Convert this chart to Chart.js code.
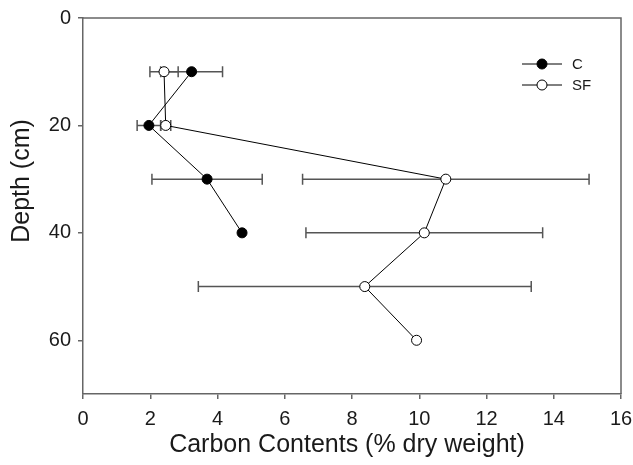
<!DOCTYPE html>
<html>
<head>
<meta charset="utf-8">
<script src="https://cdn.jsdelivr.net/npm/chart.js@4/dist/chart.umd.min.js"></script>
<style>
html,body{margin:0;padding:0;background:#fff;}
#wrap{width:633px;height:465px;position:relative;}
</style>
</head>
<body>
<div id="wrap"><canvas id="c" width="633" height="465"></canvas></div>
<script>
// Data
const seriesNames = ["C", "SF"];
const depthC = [10, 20, 30, 40];
const carbonC = [3.23, 1.96, 3.69, 4.73];
const errC = [0.92, 0.35, 1.64, 0];
const depthSF = [10, 20, 30, 40, 50, 60];
const carbonSF = [2.41, 2.46, 10.79, 10.15, 8.38, 9.92];
const errSF = [0.42, 0.15, 4.26, 3.52, 4.95, 0];
const xTicks = [0, 2, 4, 6, 8, 10, 12, 14, 16];
const yTicks = [0, 20, 40, 60];
const xTitle = "Carbon Contents (% dry weight)";
const yTitle = "Depth (cm)";

const FONT = "'Liberation Sans', Arial, sans-serif";
const AXIS = '#666666';
const TXT = '#1a1a1a';

function pts(xs, ys, es) { return xs.map((x, i) => ({x: x, y: ys[i], e: es[i]})); }

const errorBars = {
  id: 'errorBars',
  beforeDatasetsDraw(chart) {
    const ctx = chart.ctx;
    const xs = chart.scales.x, ys = chart.scales.y;
    ctx.save();
    ctx.strokeStyle = '#555555';
    ctx.lineWidth = 1.5;
    chart.data.datasets.forEach(ds => {
      ds.data.forEach(p => {
        if (!p.e) return;
        const y = ys.getPixelForValue(p.y);
        const x1 = xs.getPixelForValue(p.x - p.e);
        const x2 = xs.getPixelForValue(p.x + p.e);
        ctx.beginPath();
        ctx.moveTo(x1, y); ctx.lineTo(x2, y);
        ctx.moveTo(x1, y - 5.5); ctx.lineTo(x1, y + 5.5);
        ctx.moveTo(x2, y - 5.5); ctx.lineTo(x2, y + 5.5);
        ctx.stroke();
      });
    });
    ctx.restore();
  }
};

const frame = {
  id: 'frame',
  afterDraw(chart) {
    const ctx = chart.ctx, a = chart.chartArea;
    ctx.save();
    ctx.strokeStyle = AXIS;
    ctx.lineWidth = 1.5;
    ctx.beginPath();
    ctx.moveTo(a.left, a.top); ctx.lineTo(a.right, a.top); ctx.lineTo(a.right, a.bottom);
    ctx.stroke();
    // axis titles
    ctx.fillStyle = TXT;
    ctx.font = '25px ' + FONT;
    ctx.textAlign = 'center';
    ctx.textBaseline = 'middle';
    ctx.fillText(xTitle, (a.left + a.right) / 2 - 5, 445);
    ctx.save();
    ctx.translate(22, 181);
    ctx.rotate(-Math.PI / 2);
    ctx.fillText(yTitle, 0, 0);
    ctx.restore();
    // legend
    const items = chart.data.datasets;
    const lx1 = 522, lx2 = 562, lxm = 542;
    const ly = [64, 85];
    items.forEach((ds, i) => {
      const y = ly[i];
      ctx.strokeStyle = '#000'; ctx.lineWidth = 1;
      ctx.beginPath(); ctx.moveTo(lx1, y); ctx.lineTo(lx2, y); ctx.stroke();
      ctx.beginPath(); ctx.arc(lxm, y, 5, 0, Math.PI * 2);
      ctx.fillStyle = ds.pointBackgroundColor; ctx.fill(); ctx.stroke();
      ctx.fillStyle = TXT;
      ctx.font = '15px ' + FONT;
      ctx.textBaseline = 'middle';
      ctx.textAlign = 'left';
      ctx.fillText(ds.label, 572, y + 1);
    });
    ctx.restore();
  }
};

new Chart(document.getElementById('c'), {
  type: 'scatter',
  data: {
    datasets: [
      {
        label: seriesNames[0],
        data: pts(carbonC, depthC, errC),
        showLine: true,
        borderColor: '#000', borderWidth: 1,
        pointRadius: 5, pointHoverRadius: 5,
        pointBackgroundColor: '#000', pointBorderColor: '#000', pointBorderWidth: 1
      },
      {
        label: seriesNames[1],
        data: pts(carbonSF, depthSF, errSF),
        showLine: true,
        borderColor: '#000', borderWidth: 1,
        pointRadius: 5, pointHoverRadius: 5,
        pointBackgroundColor: '#fff', pointBorderColor: '#000', pointBorderWidth: 1
      }
    ]
  },
  options: {
    responsive: false,
    animation: false,
    layout: { padding: { top: 18, right: 0, left: 0, bottom: 0 } },
    plugins: { legend: { display: false }, tooltip: { enabled: false } },
    scales: {
      x: {
        type: 'linear', min: 0, max: 16,
        afterBuildTicks(s) { s.ticks = xTicks.map(v => ({value: v})); },
        afterFit(s) { s.height = 71; s.paddingRight = 12; s.paddingLeft = 0; },
        grid: { display: true, drawOnChartArea: false, drawTicks: true, tickLength: 5, color: AXIS, lineWidth: 1.5 },
        border: { display: true, color: AXIS, width: 1.5 },
        ticks: { color: TXT, font: { family: FONT, size: 20 }, padding: 8, maxRotation: 0 },
        title: { display: false }
      },
      y: {
        type: 'linear', min: 0, max: 70, reverse: true,
        afterBuildTicks(s) { s.ticks = yTicks.map(v => ({value: v})); },
        afterFit(s) { s.width = 83; s.paddingTop = 0; s.paddingBottom = 0; },
        grid: { display: true, drawOnChartArea: false, drawTicks: true, tickLength: 5, color: AXIS, lineWidth: 1.5 },
        border: { display: true, color: AXIS, width: 1.5 },
        ticks: { color: TXT, font: { family: FONT, size: 20 }, padding: 7 },
        title: { display: false }
      }
    }
  },
  plugins: [errorBars, frame]
});
</script>
</body>
</html>
